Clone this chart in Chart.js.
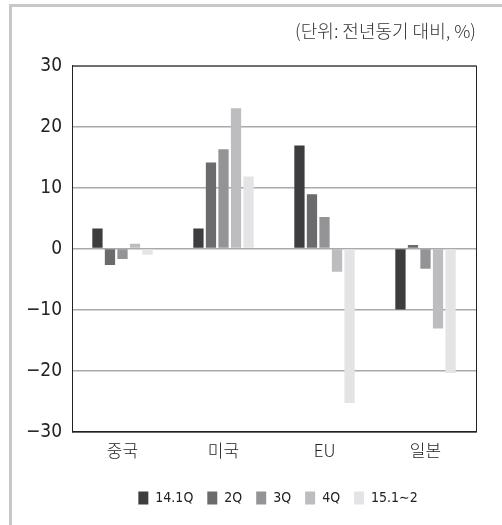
<!DOCTYPE html>
<html>
<head>
<meta charset="utf-8">
<script src="https://cdn.jsdelivr.net/npm/chart.js@4"></script>
<style>
  html, body { margin: 0; padding: 0; background: #fff; }
  #wrap { position: relative; width: 502px; height: 525px; }
  #frame { position: absolute; left: 9px; top: 4px; right: 0; bottom: 0;
           border-left: 3px solid #c8c8c8; border-top: 3px solid #c8c8c8; }
  canvas { position: absolute; left: 0; top: 0; }
</style>
</head>
<body>
<div id="wrap">
  <div id="frame"></div>
  <canvas id="chart" width="502" height="525"></canvas>
</div>
<script>
const categories = ['중국', '미국', 'EU', '일본'];
const seriesNames = ['14.1Q', '2Q', '3Q', '4Q', '15.1∼2'];
const q1_14 = [3.3, 3.3, 16.9, -10.0];
const q2_14 = [-2.7, 14.1, 8.9, 0.6];
const q3_14 = [-1.7, 16.3, 5.2, -3.3];
const q4_14 = [0.8, 23.0, -3.8, -13.1];
const jf_15 = [-1.0, 11.8, -25.3, -20.4];
const yTicks = [-30, -20, -10, 0, 10, 20, 30];

const colors = ['#3d3d3f', '#6b6b6e', '#949497', '#bdbdc0', '#e4e4e6'];
const seriesValues = [q1_14, q2_14, q3_14, q4_14, jf_15];
const FONT = "'DejaVu Sans Condensed', 'Noto Sans CJK KR', sans-serif";
const KFONT = "'Noto Sans CJK KR', sans-serif";

// 플롯 영역 테두리 + 범례를 오른쪽으로 조금 이동
const boxPlugin = {
  id: 'box',
  afterLayout(chart) {
    const lg = chart.legend;
    if (lg) { lg.left += 40; lg.right += 40; }
  },
  afterDraw(chart) {
    const { ctx, chartArea: a } = chart;
    ctx.save();
    ctx.strokeStyle = '#222';
    ctx.lineWidth = 1;
    ctx.strokeRect(a.left + 0.5, a.top + 0.5, a.right - a.left, a.bottom - a.top);
    ctx.restore();
  }
};

new Chart(document.getElementById('chart').getContext('2d'), {
  type: 'bar',
  data: {
    labels: categories,
    datasets: seriesValues.map((vals, i) => ({
      label: seriesNames[i],
      data: vals,
      backgroundColor: colors[i],
      borderWidth: 0,
      barPercentage: 0.82,
      categoryPercentage: 0.62
    }))
  },
  options: {
    responsive: false,
    animation: false,
    layout: { padding: { left: 0, right: 26, top: 10, bottom: 10 } },
    plugins: {
      title: {
        display: true,
        text: '(단위: 전년동기 대비, %)',
        align: 'end',
        color: '#333',
        font: { family: KFONT, size: 18, weight: 300 },
        padding: { top: 10, bottom: 24 }
      },
      legend: {
        position: 'bottom',
        labels: {
          boxWidth: 10,
          boxHeight: 13,
          padding: 14,
          color: '#222',
          font: { family: FONT, size: 14 }
        }
      },
      tooltip: { enabled: false }
    },
    scales: {
      x: {
        afterFit(scale) { scale.height += 15; },
        grid: { display: false },
        border: { display: true, color: '#222' },
        ticks: { color: '#222', padding: 1, font: { family: KFONT, size: 17, weight: 300 } }
      },
      y: {
        min: -30,
        max: 30,
        afterFit(scale) { scale.width = 72; },
        afterBuildTicks(scale) { scale.ticks = yTicks.map(v => ({ value: v })); },
        grid: { color: '#aaaaaa', lineWidth: 1.5, drawTicks: false },
        border: { display: true, color: '#222' },
        ticks: {
          color: '#222',
          padding: 10,
          font: { family: FONT, size: 19 },
          callback: v => (v < 0 ? '−' + Math.abs(v) : String(v))
        }
      }
    }
  },
  plugins: [boxPlugin]
});
</script>
</body>
</html>
